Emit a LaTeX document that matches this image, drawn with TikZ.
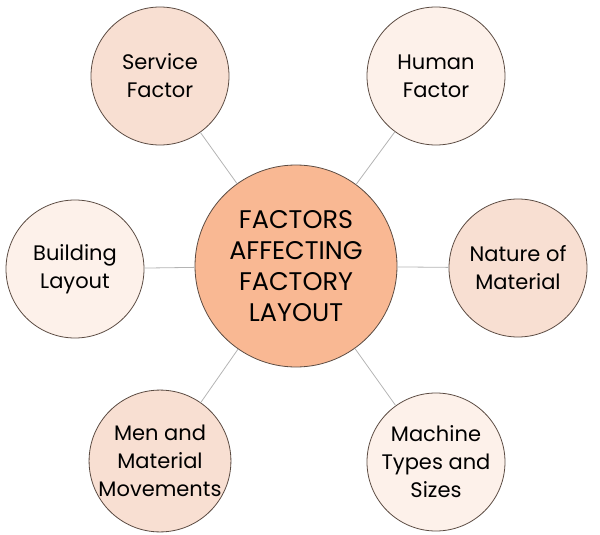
\documentclass[tikz,border=0pt]{standalone}
\usepackage{fontspec}
\setmainfont{Poppins}
\usetikzlibrary{positioning}

\definecolor{hubFill}{HTML}{F9B893}
\definecolor{midFill}{HTML}{F8DFD2}
\definecolor{paleFill}{HTML}{FDF1EA}
\definecolor{rimColor}{HTML}{5B4B42}
\definecolor{linkColor}{HTML}{B4B4B4}

\begin{document}
\begin{tikzpicture}[
  x=1pt, y=-1pt,
  hubNode/.style    ={circle, draw=rimColor, line width=0.8pt, fill=hubFill, minimum size=202pt, inner sep=0pt, text centered, align=center, font=\fontsize{25.5}{31}\selectfont},
  factorNode/.style ={circle, draw=rimColor, line width=0.8pt, minimum size=138pt, inner sep=0pt, text centered, align=center, font=\fontsize{21}{28}\selectfont},
  midNode/.style    ={factorNode, fill=midFill},
  paleNode/.style   ={factorNode, fill=paleFill},
  link/.style       ={draw=linkColor, line width=0.8pt}
]
\useasboundingbox (0,0) rectangle (600,535);

% ================== HUB ==================
\node[hubNode] (LAYOUT) at (296,266) {FACTORS\\AFFECTING\\FACTORY\\LAYOUT};

% ================== FACTORS ==================
\node[midNode]  (SERV)   at (160,76)  {Service\\Factor};
\node[paleNode] (HUMAN)  at (436,76)  {Human\\Factor};
\node[paleNode] (BUILD)  at (75,269)  {Building\\Layout};
\node[midNode]  (NATURE) at (518,268) {Nature of\\Material};
\node[midNode]  (MEN)    at (160,461) {Men and\\Material\\Movements};
\node[paleNode] (MACH)   at (436,462) {Machine\\Types and\\Sizes};

% ================== LINKS ==================
\draw[link] (LAYOUT) -- (SERV);
\draw[link] (LAYOUT) -- (HUMAN);
\draw[link] (LAYOUT) -- (BUILD);
\draw[link] (LAYOUT) -- (NATURE);
\draw[link] (LAYOUT) -- (MEN);
\draw[link] (LAYOUT) -- (MACH);

\end{tikzpicture}
\end{document}
